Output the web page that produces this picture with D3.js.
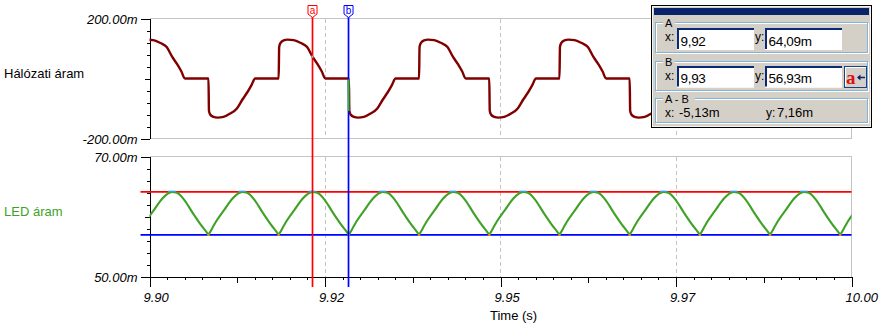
<!DOCTYPE html>
<html>
<head>
<meta charset="utf-8">
<script src="https://cdn.jsdelivr.net/npm/d3@7"></script>
<style>
  html, body { margin: 0; padding: 0; background: #ffffff; }
  svg { display: block; font-family: "Liberation Sans", Arial, sans-serif; }
</style>
</head>
<body>
<svg id="chart" width="880" height="330"></svg>
<script>
// ---------------- data ----------------
// Mains current (mA) sampled over the 100 ms window
const mainsTime = [
  9.8984, 9.89847, 9.89864, 9.89911, 9.89968, 9.90054, 9.90149, 9.90245, 9.90324, 9.90396, 9.90453, 9.90505,
  9.9084, 9.90847, 9.90864, 9.90911, 9.90968, 9.91054, 9.91149, 9.91245, 9.91324, 9.91396, 9.91453, 9.91505,
  9.9184, 9.91847, 9.91864, 9.91911, 9.91968, 9.92054, 9.92149, 9.92245, 9.92324, 9.92396, 9.92453, 9.92505,
  9.9284, 9.92847, 9.92864, 9.92911, 9.92968, 9.93054, 9.93149, 9.93245, 9.93324, 9.93396, 9.93453, 9.93505,
  9.9384, 9.93847, 9.93864, 9.93911, 9.93968, 9.94054, 9.94149, 9.94245, 9.94324, 9.94396, 9.94453, 9.94505,
  9.9484, 9.94847, 9.94864, 9.94911, 9.94968, 9.95054, 9.95149, 9.95245, 9.95324, 9.95396, 9.95453, 9.95505,
  9.9584, 9.95847, 9.95864, 9.95911, 9.95968, 9.96054, 9.96149, 9.96245, 9.96324, 9.96396, 9.96453, 9.96505,
  9.9684, 9.96847, 9.96864, 9.96911, 9.96968, 9.97054, 9.97149, 9.97245, 9.97324, 9.97396, 9.97453, 9.97505,
  9.9784, 9.97847, 9.97864, 9.97911, 9.97968, 9.98054, 9.98149, 9.98245, 9.98324, 9.98396, 9.98453, 9.98505,
  9.9884, 9.98847, 9.98864, 9.98911, 9.98968, 9.99054, 9.99149, 9.99245, 9.99324, 9.99396, 9.99453, 9.99505,
  9.9984, 9.99847, 9.99864, 9.99911, 9.99968, 10.00054
];
const mainsCurrent = [
  0, 105, 118, 127, 129.5, 128, 119, 105, 72, 47, 24, 0,
  0, -108, -120, -128, -130.5, -128, -117, -100, -70, -45, -22, 0,
  0, 105, 118, 127, 129.5, 128, 119, 105, 72, 47, 24, 0,
  0, -108, -120, -128, -130.5, -128, -117, -100, -70, -45, -22, 0,
  0, 105, 118, 127, 129.5, 128, 119, 105, 72, 47, 24, 0,
  0, -108, -120, -128, -130.5, -128, -117, -100, -70, -45, -22, 0,
  0, 105, 118, 127, 129.5, 128, 119, 105, 72, 47, 24, 0,
  0, -108, -120, -128, -130.5, -128, -117, -100, -70, -45, -22, 0,
  0, 105, 118, 127, 129.5, 128, 119, 105, 72, 47, 24, 0,
  0, -108, -120, -128, -130.5, -128, -117, -100, -70, -45, -22, 0,
  0, 105, 118, 127, 129.5, 128
];

// LED current (mA)
const ledTime = [
  9.8984, 9.89855, 9.8995, 9.9007, 9.9018, 9.9026, 9.9032, 9.9039, 9.905, 9.9061, 9.9073, 9.90825,
  9.9084, 9.90855, 9.9095, 9.9107, 9.9118, 9.9126, 9.9132, 9.9139, 9.915, 9.9161, 9.9173, 9.91825,
  9.9184, 9.91855, 9.9195, 9.9207, 9.9218, 9.9226, 9.9232, 9.9239, 9.925, 9.9261, 9.9273, 9.92825,
  9.9284, 9.92855, 9.9295, 9.9307, 9.9318, 9.9326, 9.9332, 9.9339, 9.935, 9.9361, 9.9373, 9.93825,
  9.9384, 9.93855, 9.9395, 9.9407, 9.9418, 9.9426, 9.9432, 9.9439, 9.945, 9.9461, 9.9473, 9.94825,
  9.9484, 9.94855, 9.9495, 9.9507, 9.9518, 9.9526, 9.9532, 9.9539, 9.955, 9.9561, 9.9573, 9.95825,
  9.9584, 9.95855, 9.9595, 9.9607, 9.9618, 9.9626, 9.9632, 9.9639, 9.965, 9.9661, 9.9673, 9.96825,
  9.9684, 9.96855, 9.9695, 9.9707, 9.9718, 9.9726, 9.9732, 9.9739, 9.975, 9.9761, 9.9773, 9.97825,
  9.9784, 9.97855, 9.9795, 9.9807, 9.9818, 9.9826, 9.9832, 9.9839, 9.985, 9.9861, 9.9873, 9.98825,
  9.9884, 9.98855, 9.9895, 9.9907, 9.9918, 9.9926, 9.9932, 9.9939, 9.995, 9.9961, 9.9973, 9.99825,
  9.9984, 9.99855, 9.9995, 10.0007
];
const ledCurrent = [
  56.93, 57.24, 59.2, 61.2, 62.95, 63.8, 64.09, 63.95, 62.7, 60.7, 58.65, 57.19,
  56.93, 57.24, 59.2, 61.2, 62.95, 63.8, 64.09, 63.95, 62.7, 60.7, 58.65, 57.19,
  56.93, 57.24, 59.2, 61.2, 62.95, 63.8, 64.09, 63.95, 62.7, 60.7, 58.65, 57.19,
  56.93, 57.24, 59.2, 61.2, 62.95, 63.8, 64.09, 63.95, 62.7, 60.7, 58.65, 57.19,
  56.93, 57.24, 59.2, 61.2, 62.95, 63.8, 64.09, 63.95, 62.7, 60.7, 58.65, 57.19,
  56.93, 57.24, 59.2, 61.2, 62.95, 63.8, 64.09, 63.95, 62.7, 60.7, 58.65, 57.19,
  56.93, 57.24, 59.2, 61.2, 62.95, 63.8, 64.09, 63.95, 62.7, 60.7, 58.65, 57.19,
  56.93, 57.24, 59.2, 61.2, 62.95, 63.8, 64.09, 63.95, 62.7, 60.7, 58.65, 57.19,
  56.93, 57.24, 59.2, 61.2, 62.95, 63.8, 64.09, 63.95, 62.7, 60.7, 58.65, 57.19,
  56.93, 57.24, 59.2, 61.2, 62.95, 63.8, 64.09, 63.95, 62.7, 60.7, 58.65, 57.19,
  56.93, 57.24, 59.2, 61.2
];

const seriesNames = ["Hálózati áram", "LED áram"];
const xTickValues = [9.9, 9.925, 9.95, 9.975, 10.0];
const xTickLabels = ["9.90", "9.92", "9.95", "9.97", "10.00"];
const mainsTickValues = [200, -200];
const mainsTickLabels = ["200.00m", "-200.00m"];
const ledTickValues = [70, 50];
const ledTickLabels = ["70.00m", "50.00m"];
const axisTitle = "Time (s)";

// measurement cursors
const cursorNames = ["a", "b"];
const cursorGroupNames = ["A", "B", "A - B"];
const cursorTime = [9.92322, 9.92835];
const cursorLed = [64.09, 56.93];

// ---------------- layout ----------------
const svg = d3.select("#chart");
const left = 149.5, right = 851.5;
const x = d3.scaleLinear().domain([9.9, 10.0]).range([left, right]);
const yMains = d3.scaleLinear().domain([-200, 200]).range([138.5, 18.5]);
const yLed = d3.scaleLinear().domain([50, 70]).range([276.5, 156.5]);

const mains = mainsTime.map((t, i) => ({ t, v: mainsCurrent[i] }));
const led = ledTime.map((t, i) => ({ t, v: ledCurrent[i] }));

const green = "#3fa226";
const darkRed = "#800000";
const frameGray = "#c4c4c4";
const fmt2 = d3.format(".2f");
const comma = s => s.replace(".", ",").replace("\u2212", "-");

const defs = svg.append("defs");
defs.append("clipPath").attr("id", "clipTop").append("rect")
  .attr("x", left).attr("y", 0).attr("width", right - left).attr("height", 148);
defs.append("clipPath").attr("id", "clipBot").append("rect")
  .attr("x", left).attr("y", 148).attr("width", right - left).attr("height", 140);

// ---- panel frames and grid ----
const frames = svg.append("g").attr("shape-rendering", "crispEdges");
function panel(yScale, showBottom) {
  const [y0, y1] = yScale.range(); // bottom, top
  frames.append("line").attr("x1", left).attr("x2", right).attr("y1", y1).attr("y2", y1)
    .attr("stroke", frameGray);
  if (showBottom) frames.append("line").attr("x1", left).attr("x2", right).attr("y1", y0).attr("y2", y0)
    .attr("stroke", frameGray);
  frames.append("line").attr("x1", right).attr("x2", right).attr("y1", y1).attr("y2", y0)
    .attr("stroke", frameGray);
  frames.selectAll(null).data(xTickValues.slice(1, -1)).enter().append("line")
    .attr("x1", d => Math.round(x(d)) + 0.5).attr("x2", d => Math.round(x(d)) + 0.5)
    .attr("y1", y1).attr("y2", y0)
    .attr("stroke", frameGray).attr("stroke-dasharray", "4,3");
}
panel(yMains, true);
panel(yLed, false);

// ---- y axes ----
function yAxes(yScale, majorVals, majorLabels, mid, minorStep) {
  const [lo, hi] = yScale.domain();
  const minor = d3.range(lo + minorStep, hi - minorStep / 2, minorStep).filter(v => Math.abs(v - mid) > 1e-9);
  const gMinor = svg.append("g").attr("transform", `translate(${left},0)`);
  gMinor.call(d3.axisLeft(yScale).tickValues(minor).tickSize(3).tickFormat("").tickSizeOuter(0));
  const gMid = svg.append("g").attr("transform", `translate(${left},0)`);
  gMid.call(d3.axisLeft(yScale).tickValues([mid]).tickSize(5).tickFormat(""));
  gMid.select(".domain").remove();
  const gMajor = svg.append("g").attr("transform", `translate(${left},0)`);
  gMajor.call(d3.axisLeft(yScale).tickValues(majorVals).tickSize(9).tickPadding(3)
    .tickFormat((d, i) => majorLabels[i]));
  gMajor.select(".domain").remove();
  gMajor.selectAll("text")
    .attr("font-family", "'Liberation Sans', Arial, sans-serif")
    .attr("font-size", 13).attr("font-style", "italic").attr("fill", "#000")
    .attr("dy", "0.36em");
  [gMinor, gMid, gMajor].forEach(g => {
    g.attr("shape-rendering", "crispEdges");
    g.selectAll("line, path").attr("stroke", "#000");
  });
}
yAxes(yMains, mainsTickValues, mainsTickLabels, 0, 40);
yAxes(yLed, ledTickValues, ledTickLabels, 60, 2);

// ---- x axis ----
const xMinor = d3.range(9.9025, 10.0, 0.0025).filter(v =>
  !xTickValues.some(m => Math.abs(m - v) < 1e-6) && Math.abs(((v - 9.9) / 0.025) % 1 - 0.5) > 1e-3);
const xMid = [9.9125, 9.9375, 9.9625, 9.9875];
const gx0 = svg.append("g").attr("transform", `translate(0,${yLed.range()[0]})`);
gx0.call(d3.axisBottom(x).tickValues(xMinor).tickSize(3).tickFormat("").tickSizeOuter(0));
const gx1 = svg.append("g").attr("transform", `translate(0,${yLed.range()[0]})`);
gx1.call(d3.axisBottom(x).tickValues(xMid).tickSize(6).tickFormat(""));
gx1.select(".domain").remove();
const gx2 = svg.append("g").attr("transform", `translate(0,${yLed.range()[0]})`);
gx2.call(d3.axisBottom(x).tickValues(xTickValues).tickSize(10).tickFormat((d, i) => xTickLabels[i]));
gx2.select(".domain").remove();
gx2.selectAll("text")
  .attr("font-family", "'Liberation Sans', Arial, sans-serif")
  .attr("font-size", 13).attr("font-style", "italic").attr("fill", "#000")
  .attr("text-anchor", "start").attr("x", -6.5).attr("y", 25).attr("dy", 0);
[gx0, gx1, gx2].forEach(g => {
  g.attr("shape-rendering", "crispEdges");
  g.selectAll("line, path").attr("stroke", "#000");
});

svg.append("text").attr("x", 490).attr("y", 320).attr("font-size", 13).attr("fill", "#000")
  .text(axisTitle);

// ---- series labels ----
svg.append("text").attr("x", 4).attr("y", 78).attr("font-size", 13).attr("fill", "#000")
  .text(seriesNames[0]);
svg.append("text").attr("x", 4).attr("y", 215.5).attr("font-size", 13).attr("fill", green)
  .text(seriesNames[1]);

// ---- horizontal cursor levels on the LED panel ----
const levelColors = ["#ff0000", "#0000ff"];
svg.append("g")
  .selectAll("line").data(cursorLed).enter().append("line")
  .attr("x1", left - 9).attr("x2", right)
  .attr("y1", d => yLed(d)).attr("y2", d => yLed(d))
  .attr("stroke", (d, i) => levelColors[i]).attr("stroke-width", 1.7);

// ---- traces ----
const mainsLine = d3.line().x(d => x(d.t)).y(d => yMains(d.v)).curve(d3.curveMonotoneX);
const ledLine = d3.line().x(d => x(d.t)).y(d => yLed(d.v)).curve(d3.curveMonotoneX);

svg.append("path").datum(mains).attr("clip-path", "url(#clipTop)")
  .attr("d", mainsLine).attr("fill", "none").attr("stroke", darkRed)
  .attr("stroke-width", 2.4).attr("stroke-linejoin", "round");

svg.append("path").datum(led).attr("clip-path", "url(#clipBot)")
  .attr("d", ledLine).attr("fill", "none").attr("stroke", green)
  .attr("stroke-width", 2.1).attr("stroke-linejoin", "round");

// maximum / minimum markers on the LED trace
const ledMax = d3.max(ledCurrent), ledMin = d3.min(ledCurrent);
const inView = d => d.t >= 9.9 && d.t <= 10.0;
svg.append("g").selectAll("line").data(led.filter(d => d.v === ledMax && inView(d))).enter().append("line")
  .attr("x1", d => x(d.t - 0.00055)).attr("x2", d => x(d.t + 0.00055))
  .attr("y1", d => yLed(d.v) - 0.6).attr("y2", d => yLed(d.v) - 0.6)
  .attr("stroke", "#3c9ee6").attr("stroke-width", 1.4);
svg.append("g").selectAll("rect").data(led.filter(d => d.v === ledMin && inView(d))).enter().append("rect")
  .attr("x", d => x(d.t) - 1).attr("y", d => yLed(d.v) - 1).attr("width", 2).attr("height", 2)
  .attr("fill", "#ff8c00");

// ---- vertical cursors ----
const cursorColors = ["#ff0000", "#0000ff"];
const cursorG = svg.append("g");
cursorTime.forEach((t, i) => {
  const cx = x(t);
  cursorG.append("line").attr("x1", cx).attr("x2", cx).attr("y1", 17).attr("y2", 287)
    .attr("stroke", cursorColors[i]).attr("stroke-width", 1.7);
  cursorG.append("path")
    .attr("d", `M${cx - 4.5},5.5 h9 v8.5 l-4.5,3.5 l-4.5,-3.5 z`)
    .attr("fill", "#fff").attr("stroke", cursorColors[i]).attr("stroke-width", 1);
  cursorG.append("text").attr("x", cx).attr("y", 14).attr("text-anchor", "middle")
    .attr("font-size", 10).attr("fill", cursorColors[i]).text(cursorNames[i]);
});

// mains value marker where cursor a crosses the trace
function interp(data, t) {
  const i = d3.bisector(d => d.t).right(data, t);
  const a = data[i - 1], b = data[i];
  return a.v + (b.v - a.v) * (t - a.t) / (b.t - a.t);
}
cursorG.append("rect").attr("x", x(cursorTime[0]) - 1)
  .attr("y", yMains(interp(mains, cursorTime[0])) - 1).attr("width", 2).attr("height", 2)
  .attr("fill", "#6fd0f0");
// step of the mains trace under cursor b
{
  const i = d3.bisector(d => d.t).left(mains, cursorTime[1]);
  const bx = x(cursorTime[1]);
  cursorG.append("line").attr("x1", bx).attr("x2", bx)
    .attr("y1", yMains(mains[i].v) + 1).attr("y2", yMains(mains[i + 1].v))
    .attr("stroke", "#3cb43c").attr("stroke-width", 2);
}

// ---------------- cursor read-out window ----------------
const win = svg.append("g").attr("font-family", "'Liberation Sans', Arial, sans-serif");
win.append("rect").attr("x", 651.5).attr("y", 5.5).attr("width", 220).attr("height", 122)
  .attr("fill", "#d4d0c8").attr("stroke", "#000").attr("shape-rendering", "crispEdges");
win.append("rect").attr("x", 652.5).attr("y", 6.5).attr("width", 218).attr("height", 120)
  .attr("fill", "none").attr("stroke", "#f4f3ee").attr("shape-rendering", "crispEdges");
win.append("rect").attr("x", 654).attr("y", 8).attr("width", 215).attr("height", 7)
  .attr("fill", "#0a246a");

function groupBox(y, h, title, tw) {
  win.append("rect").attr("x", 656.5).attr("y", y + 1).attr("width", 212).attr("height", h)
    .attr("fill", "none").attr("stroke", "#ffffff").attr("shape-rendering", "crispEdges");
  win.append("rect").attr("x", 655.5).attr("y", y).attr("width", 212).attr("height", h)
    .attr("fill", "none").attr("stroke", "#7fb3da").attr("shape-rendering", "crispEdges");
  win.append("rect").attr("x", 663).attr("y", y - 4).attr("width", tw).attr("height", 8)
    .attr("fill", "#d4d0c8");
  win.append("text").attr("x", 665).attr("y", y + 4).attr("font-size", 11).attr("fill", "#000")
    .text(title);
}
function field(x0, y0, w, h, txt) {
  win.append("rect").attr("x", x0).attr("y", y0).attr("width", w).attr("height", h).attr("fill", "#fff");
  win.append("path").attr("d", `M${x0 + w},${y0 + h - 0.5} H${x0 + 0.5} V${y0 + 0.5} H${x0 + w}`)
    .attr("fill", "none").attr("stroke", "#ffffff").attr("stroke-width", 1);
  win.append("path").attr("d", `M${x0 + 1},${y0 + h - 1} V${y0 + 1} H${x0 + w}`)
    .attr("fill", "none").attr("stroke", "#0a2a78").attr("stroke-width", 2);
  win.append("text").attr("x", x0 + 3.5).attr("y", y0 + h - 4.5).attr("font-size", 13.5)
    .attr("letter-spacing", -0.3).attr("fill", "#000").text(txt);
}
function small(xp, yp, txt) {
  win.append("text").attr("x", xp).attr("y", yp).attr("font-size", 12).attr("fill", "#000").text(txt);
}

const timeText = cursorTime.map(t => comma(fmt2(t)));
const ledText = cursorLed.map(v => comma(fmt2(v)) + "m");
const dT = comma(fmt2((cursorTime[0] - cursorTime[1]) * 1000)) + "m";
const dV = comma(fmt2(cursorLed[0] - cursorLed[1])) + "m";

// group A
groupBox(22.5, 29.5, cursorGroupNames[0], 12);
small(665, 41, "x:"); field(677, 28, 77, 22, timeText[0]);
small(755, 41, "y:"); field(765, 28, 77, 22, ledText[0]);
// group B
groupBox(61.5, 29, cursorGroupNames[1], 12);
small(665, 80, "x:"); field(677, 66, 77, 21.5, timeText[1]);
small(755, 80, "y:"); field(765, 66, 77, 21.5, ledText[1]);
// button
win.append("rect").attr("x", 844.5).attr("y", 66.5).attr("width", 22).attr("height", 20.5)
  .attr("fill", "#d4d0c8").attr("stroke", "#1c3f8c").attr("shape-rendering", "crispEdges");
win.append("path").attr("d", "M845.5,86 V67.5 H866").attr("fill", "none").attr("stroke", "#fff");
win.append("text").attr("x", 846).attr("y", 83.5).attr("font-family", "'Liberation Serif', serif")
  .attr("font-weight", "bold").attr("font-size", 19).attr("fill", "#e01010").text(cursorNames[0]);
win.append("line").attr("x1", 858).attr("x2", 865).attr("y1", 77.5).attr("y2", 77.5)
  .attr("stroke", "#0a246a").attr("stroke-width", 1.5);
win.append("path").attr("d", "M857,77.5 l3.5,-3 v6 z").attr("fill", "#0a246a");
// group A - B
groupBox(98.5, 23.5, cursorGroupNames[2], 32);
small(665, 116.5, "x:");
win.append("text").attr("x", 679).attr("y", 116.5).attr("font-size", 13).attr("fill", "#000").text(dT);
small(766, 116.5, "y:");
win.append("text").attr("x", 777).attr("y", 116.5).attr("font-size", 13).attr("fill", "#000").text(dV);
</script>
</body>
</html>
